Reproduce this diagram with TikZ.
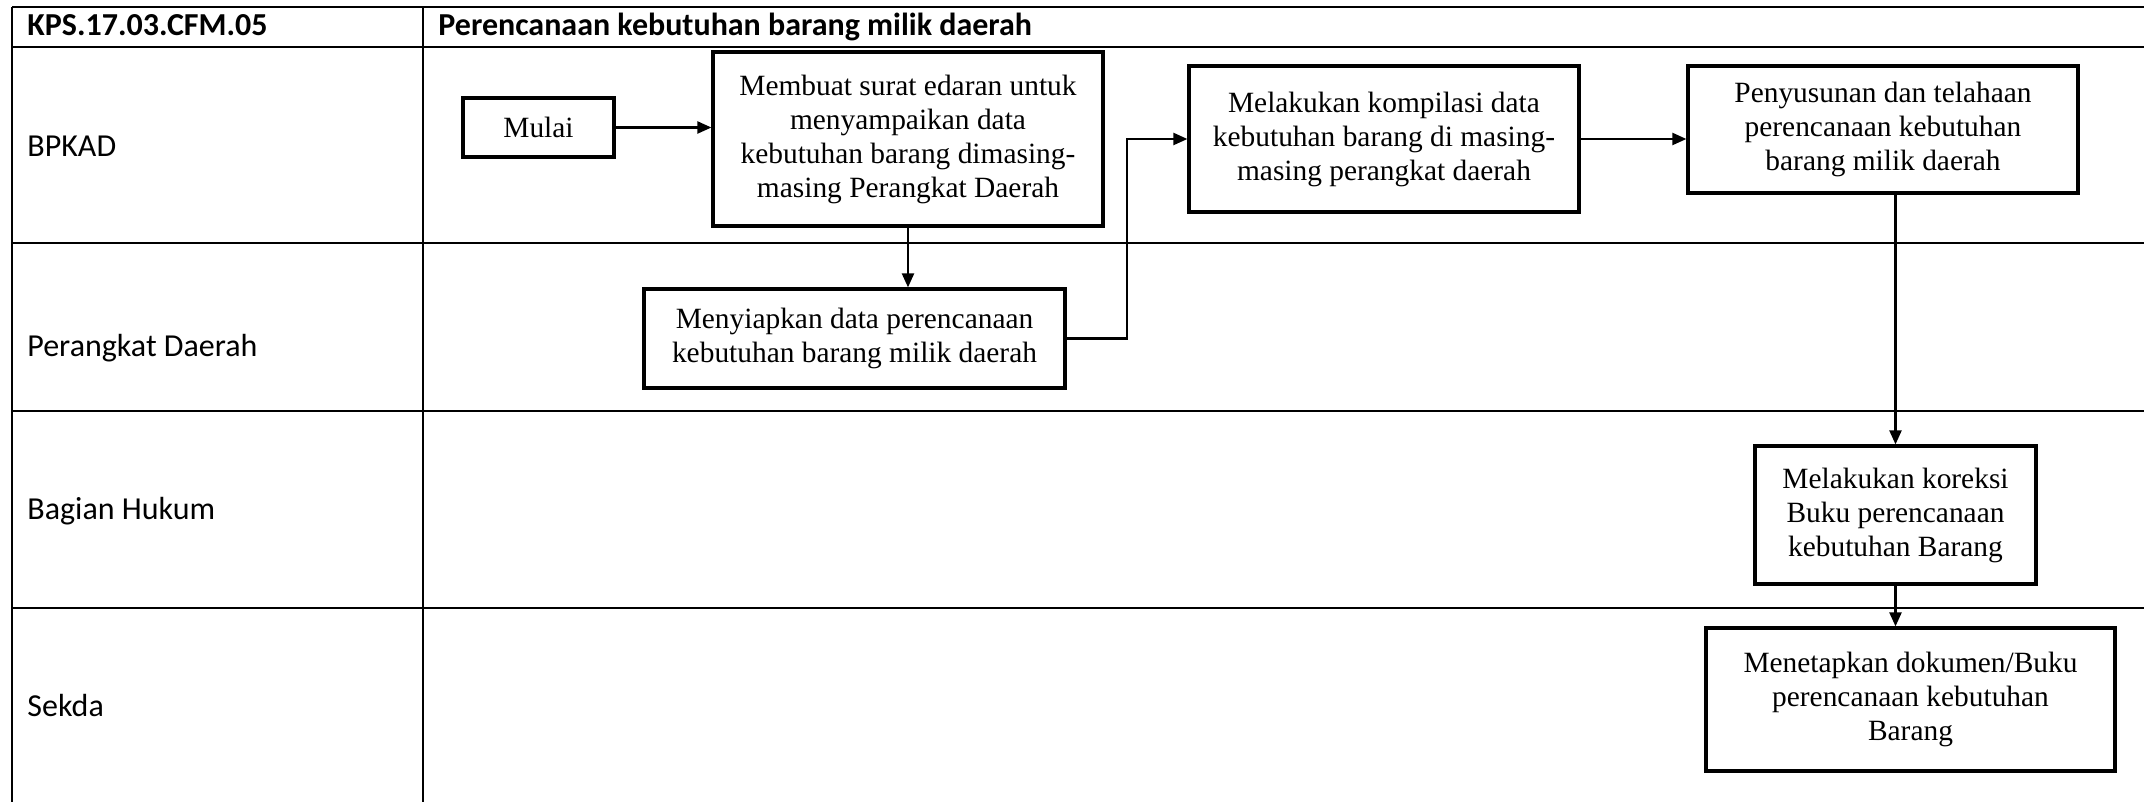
\documentclass[tikz,border=0pt]{standalone}
\usepackage{fontspec}
\setmainfont{Liberation Serif}
\newfontfamily\calibri{Carlito}
\usetikzlibrary{arrows.meta}
\begin{document}
\begin{tikzpicture}[x=0.5pt,y=-0.5pt,
  lane/.style={line width=1.1pt},
  box/.style={draw,line width=1.6pt,align=center,inner sep=0pt,font=\fontsize{14.7}{17}\selectfont},
  arr/.style={line width=1.1pt,-{Triangle[length=7pt,width=6pt]}},
  lbl/.style={anchor=base west,inner sep=0pt,font=\calibri\fontsize{16}{19}\selectfont},
  hdr/.style={anchor=base west,inner sep=0pt,font=\calibri\bfseries\fontsize{16}{19}\selectfont},
]
\useasboundingbox (0,0) rectangle (2144,802);
% lanes
\draw[lane] (12,7) -- (2144,7);
\draw[lane] (12,47) -- (2144,47);
\draw[lane] (12,243) -- (2144,243);
\draw[lane] (12,411) -- (2144,411);
\draw[lane] (12,608) -- (2144,608);
\draw[lane] (12,7) -- (12,802);
\draw[lane] (423,7) -- (423,802);
% header and lane labels
\node[hdr] (h1) at (27,36) {KPS.17.03.CFM.05};
\node[hdr] (h2) at (438,36) {Perencanaan kebutuhan barang milik daerah};
\node[lbl] (l1) at (27,157) {BPKAD};
\node[lbl] (l2) at (27,357) {Perangkat Daerah};
\node[lbl] (l3) at (27,519) {Bagian Hukum};
\node[lbl] (l4) at (27,716) {Sekda};
% boxes
\node[box,minimum width=75.5pt,minimum height=29.5pt] (mulai) at (538.5,127.5) {Mulai};
\node[box,minimum width=195pt,minimum height=87pt] (membuat) at (908,139)
  {Membuat surat edaran untuk\\menyampaikan data\\kebutuhan barang dimasing-\\masing Perangkat Daerah};
\node[box,minimum width=210.5pt,minimum height=49.5pt] (siap) at (854.5,338.5)
  {Menyiapkan data perencanaan\\kebutuhan barang milik daerah};
\node[box,minimum width=195pt,minimum height=73pt] (kompil) at (1384,139)
  {Melakukan kompilasi data\\kebutuhan barang di masing-\\masing perangkat daerah};
\node[box,minimum width=195pt,minimum height=63.5pt] (susun) at (1883,129.5)
  {Penyusunan dan telahaan\\perencanaan kebutuhan\\barang milik daerah};
\node[box,minimum width=140.5pt,minimum height=69pt] (koreksi) at (1895.5,515)
  {Melakukan koreksi\\Buku perencanaan\\kebutuhan Barang};
\node[box,minimum width=204.5pt,minimum height=71.5pt] (tetap) at (1910.5,699.5)
  {Menetapkan dokumen/Buku\\perencanaan kebutuhan\\Barang};
% connectors
\draw[arr] (mulai.east) -- (membuat.west |- mulai.east);
\draw[arr] (membuat.south) -- (membuat.south |- siap.north);
\draw[arr] (siap.east) -- ++(60,0) |- (kompil.west);
\draw[arr] (kompil.east) -- (susun.west |- kompil.east);
\draw[arr] (susun.south -| koreksi.north) -- (koreksi.north);
\draw[arr] (koreksi.south) -- (koreksi.south |- tetap.north);
\end{tikzpicture}
\end{document}
